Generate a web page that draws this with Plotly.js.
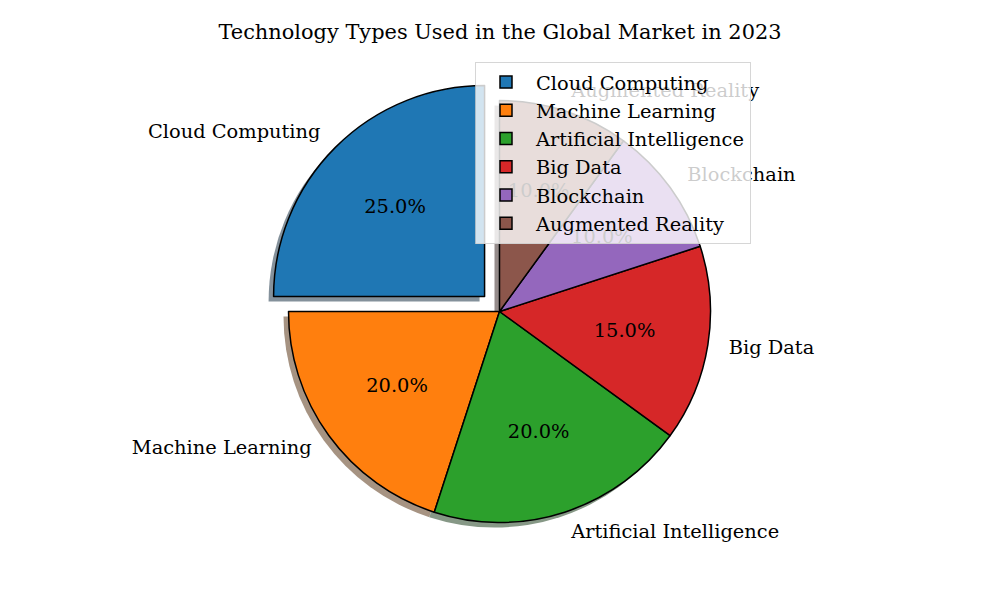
<!DOCTYPE html>
<html><head><meta charset="utf-8">
<script src="https://cdn.plot.ly/plotly-3.0.1.min.js"></script>
<style>html,body{margin:0;padding:0;background:#fff}</style>
</head><body><div id="chart" style="width:1000px;height:600px"></div>
<script>
const labels = ['Cloud Computing','Machine Learning','Artificial Intelligence','Big Data','Blockchain','Augmented Reality'];
const values = [25,20,20,15,10,10];
const colors = ['#1f77b4','#ff7f0e','#2ca02c','#d62728','#9467bd','#8c564b'];
const explode = [0.1,0,0,0,0,0];
const titleText = 'Technology Types Used in the Global Market in 2023';

const W = 1000, H = 600, CX = 499.5, CY = 311.5, R = 211, SH = 5;
const TEXT_DY = -2;
const FONT = 'DejaVu Serif, serif';
const FS = 19.4;

function shadowColor(hex) {
  const n = parseInt(hex.slice(1), 16);
  const c = [n >> 16 & 255, n >> 8 & 255, n & 255].map(v => Math.round(127.5 + 0.15 * v));
  return 'rgb(' + c.join(',') + ')';
}
const maxPull = Math.max(...explode);
const half = R * (1 + maxPull);
function dom(cx, cy) {
  return {x: [(cx - half) / W, (cx + half) / W], y: [1 - (cy + half) / H, 1 - (cy - half) / H]};
}

// Plotly's counterclockwise pie puts the first slice clockwise of the rotation angle,
// so rotate by -90 to start the first slice at 12 o'clock going counterclockwise.
const shadow = {
  type: 'pie', labels: labels, values: values, sort: false, direction: 'counterclockwise', rotation: -90,
  pull: explode, domain: dom(CX - SH, CY + SH), showlegend: false, textposition: 'none', hoverinfo: 'skip',
  marker: {colors: colors.map(shadowColor), line: {width: 0}}
};
const pie = {
  type: 'pie', labels: labels, values: values, sort: false, direction: 'counterclockwise', rotation: -90,
  pull: explode, domain: dom(CX, CY), textposition: 'none',
  marker: {colors: colors, line: {color: '#000', width: 1.5}}
};

const total = values.reduce((a, b) => a + b, 0);
const shapes = [];
function textShape(x, y, text, anchor) {
  y += TEXT_DY;
  return {
    type: 'rect', xref: 'paper', yref: 'paper', x0: x / W, x1: x / W, y0: 1 - y / H, y1: 1 - y / H,
    line: {width: 0}, fillcolor: 'rgba(0,0,0,0)', layer: 'above',
    label: {text: text, font: {family: FONT, size: FS, color: '#000'}, textposition: 'middle center',
            xanchor: anchor, yanchor: 'middle', padding: 0, textangle: 0}
  };
}
let cum = 0;
values.forEach((v, i) => {
  const ang = (90 + 360 * (cum + v / 2) / total) * Math.PI / 180;
  cum += v;
  const ox = CX + R * explode[i] * Math.cos(ang), oy = CY - R * explode[i] * Math.sin(ang);
  const lx = ox + 1.1 * R * Math.cos(ang), ly = oy - 1.1 * R * Math.sin(ang);
  const px = ox + 0.6 * R * Math.cos(ang), py = oy - 0.6 * R * Math.sin(ang);
  shapes.push(textShape(lx, ly, labels[i], Math.cos(ang) > 0 ? 'left' : 'right'));
  shapes.push(textShape(px, py, (v / total * 100).toFixed(1) + '%', 'center'));
});

const layout = {
  width: W, height: H, margin: {l: 0, r: 0, t: 0, b: 0},
  paper_bgcolor: '#fff', plot_bgcolor: '#fff',
  font: {family: FONT, size: FS, color: '#000'},
  title: {text: titleText, x: 0.5, xanchor: 'center', xref: 'paper', y: 1 - 32 / H, yanchor: 'middle',
          font: {family: FONT, size: 20.9, color: '#000'}},
  showlegend: true,
  legend: {x: 0.475, y: 1 - 62 / H, xanchor: 'left', yanchor: 'top',
           bgcolor: 'rgba(255,255,255,0.8)', bordercolor: 'rgba(204,204,204,0.8)', borderwidth: 1,
           font: {family: FONT, size: FS, color: '#000'}, itemwidth: 50},
  shapes: shapes
};
Plotly.newPlot('chart', [shadow, pie], layout, {displayModeBar: false, staticPlot: true});
</script></body></html>
